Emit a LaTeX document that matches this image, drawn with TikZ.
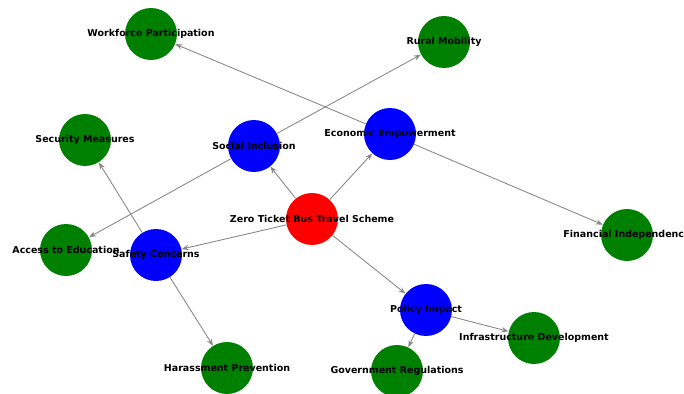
\documentclass[tikz,border=0pt]{standalone}
\usepackage{fontspec}
\setmainfont{DejaVu Sans}
\usetikzlibrary{arrows.meta}
\definecolor{nxgreen}{RGB}{0,128,0}
\definecolor{nxgray}{RGB}{136,136,136}

\begin{document}
\begin{tikzpicture}[x=0.02cm, y=-0.02cm,
    hub/.style={circle, fill=red, minimum size=1.04cm, inner sep=0pt},
    mid/.style={circle, fill=blue, minimum size=1.04cm, inner sep=0pt},
    leaf/.style={circle, fill=nxgreen, minimum size=1.04cm, inner sep=0pt},
    lbl/.style={font=\bfseries\fontsize{5.4}{6}\selectfont, inner sep=0pt},
    edge/.style={draw=nxgray, line width=0.5pt, -{Stealth[length=4pt, width=3pt]}}]
\clip (0,0) rectangle (684,394);
\useasboundingbox (0,0) rectangle (684,394);
% circles
\node[hub]  (zero) at (312,219) {};
\node[mid]  (soc)  at (254,146) {};
\node[mid]  (eco)  at (390,134) {};
\node[mid]  (saf)  at (156,255) {};
\node[mid]  (pol)  at (426,310) {};
\node[leaf] (work) at (151,34)  {};
\node[leaf] (rur)  at (444,42)  {};
\node[leaf] (sec)  at (85,140)  {};
\node[leaf] (acc)  at (66,250)  {};
\node[leaf] (fin)  at (627,235) {};
\node[leaf] (har)  at (227,368) {};
\node[leaf] (gov)  at (397,371) {};
\node[leaf] (inf)  at (534,338) {};
% connectors
\foreach \a/\b in {zero/soc, zero/eco, zero/saf, zero/pol,
                   soc/rur, soc/acc, eco/work, eco/fin,
                   saf/sec, saf/har, pol/inf, pol/gov}
    \draw[edge] (\a) -- (\b);
% labels on top
\foreach \n/\t in {zero/Zero Ticket Bus Travel Scheme, soc/Social Inclusion,
                   eco/Economic Empowerment, saf/Safety Concerns,
                   pol/Policy Impact, work/Workforce Participation,
                   rur/Rural Mobility, sec/Security Measures,
                   acc/Access to Education, fin/Financial Independence,
                   har/Harassment Prevention, gov/Government Regulations,
                   inf/Infrastructure Development}
    \node[lbl] at (\n) {\t};
\end{tikzpicture}
\end{document}
